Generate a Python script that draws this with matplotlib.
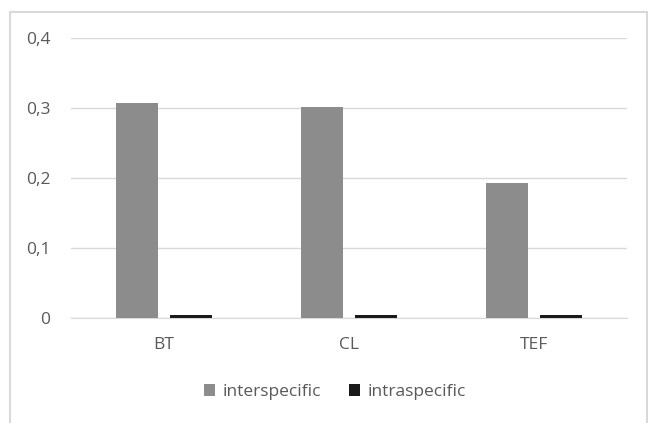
import matplotlib.pyplot as plt
from matplotlib.patches import Rectangle
import numpy as np

plt.rcParams['font.family'] = ['Open Sans', 'DejaVu Sans']

categories = ['BT', 'CL', 'TEF']
interspecific = [0.307, 0.302, 0.193]
intraspecific = [0.005, 0.005, 0.005]
yticks = [0, 0.1, 0.2, 0.3, 0.4]
ytick_labels = ['0', '0,1', '0,2', '0,3', '0,4']

fig = plt.figure(figsize=(6.51, 4.23), dpi=100)
# chart frame (bottom edge runs off the image)
fig.patches.append(Rectangle((9.5 / 651, -5 / 423), 637 / 651, 416 / 423,
                             transform=fig.transFigure, fill=False,
                             edgecolor='#d9d9d9', linewidth=1.5))
ax = fig.add_axes([71 / 651, 1 - 318 / 423, 556 / 651, 280 / 423])

x = np.arange(len(categories))
w = 0.227
ax.bar(x - 0.145, interspecific, w, color='#8c8c8c', label='interspecific', zorder=3)
ax.bar(x + 0.145, intraspecific, w, color='#1a1a1a', label='intraspecific', zorder=3)

ax.set_xlim(-0.5, 2.5)
ax.set_ylim(0, 0.4)
ax.set_yticks(yticks)
ax.set_yticklabels(ytick_labels)
ax.set_xticks(x)
ax.set_xticklabels(categories)
ax.tick_params(axis='y', length=0, pad=15, labelsize=12.5, labelcolor='#595959')
ax.tick_params(axis='x', length=0, pad=14, labelsize=12.5, labelcolor='#595959')
ax.grid(axis='y', color='#d9d9d9', linewidth=1, zorder=0)
for s in ['top', 'right', 'left']:
    ax.spines[s].set_visible(False)
ax.spines['bottom'].set_color('#d9d9d9')

fig.legend(loc='center', bbox_to_anchor=(335 / 651, 1 - 392 / 423), ncol=2,
           frameon=False, fontsize=12.5, labelcolor='#595959', handlelength=0.65,
           handleheight=0.65, handletextpad=0.45, columnspacing=1.6)

fig.savefig('out.png', dpi=100)
